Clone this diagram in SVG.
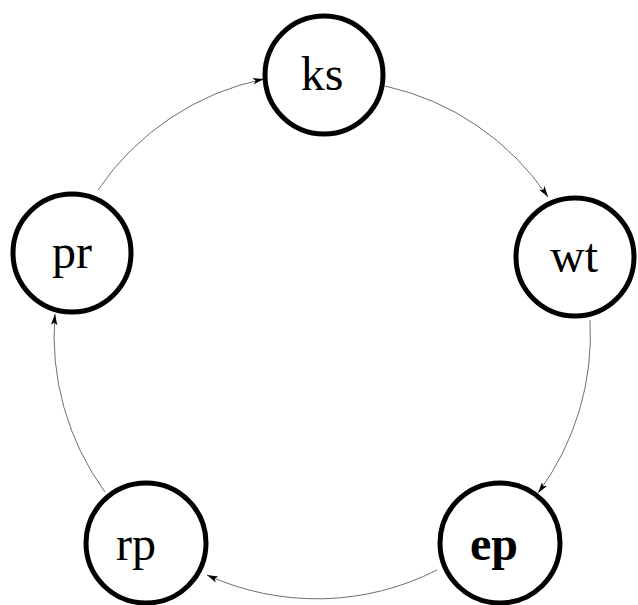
<svg xmlns="http://www.w3.org/2000/svg" width="638" height="605" viewBox="0 0 638 605">
  <style>
    .node circle { fill: #ffffff; stroke: #000000; stroke-width: 5; }
    .node text { font-family: "Liberation Serif", "Times New Roman", serif; font-size: 48px; fill: #000000; text-anchor: middle; }
    .edge { fill: none; stroke: #6e6e6e; stroke-width: 1; marker-end: url(#arrow); }
  </style>
  <defs>
    <marker id="arrow" markerUnits="userSpaceOnUse" markerWidth="12" markerHeight="8" refX="11" refY="4" orient="auto">
      <path d="M0,0.8 L11,4 L0,7.2 L2.5,4 z" fill="#000000"/>
    </marker>
  </defs>

  <!-- connectors: one ring of arcs, clockwise -->
  <g id="edges">
    <path class="edge" d="M98,190 A265,265 0 0 1 264,79"/>
    <path class="edge" d="M385,86 A265,265 0 0 1 548,197"/>
    <path class="edge" d="M590,320 A265,265 0 0 1 538,493"/>
    <path class="edge" d="M437,570 A265,265 0 0 1 207,575"/>
    <path class="edge" d="M105,492 A265,265 0 0 1 55,314"/>
  </g>

  <g id="ks" class="node">
    <circle cx="324" cy="75" r="59"/>
    <text x="322" y="90">ks</text>
  </g>
  <g id="wt" class="node">
    <circle cx="575" cy="257" r="59"/>
    <text x="574" y="272">wt</text>
  </g>
  <g id="ep" class="node">
    <circle cx="500" cy="543" r="60"/>
    <text x="494" y="560" font-weight="bold">ep</text>
  </g>
  <g id="rp" class="node">
    <circle cx="146" cy="543" r="60"/>
    <text x="136" y="560">rp</text>
  </g>
  <g id="pr" class="node">
    <circle cx="72" cy="253" r="59"/>
    <text x="72" y="268">pr</text>
  </g>
</svg>
